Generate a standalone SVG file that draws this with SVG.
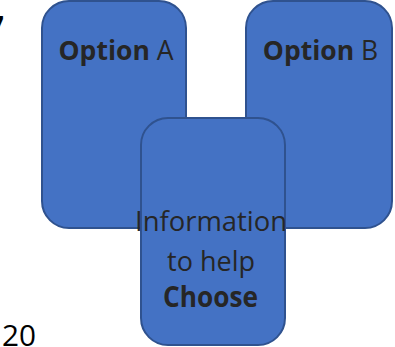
<svg xmlns="http://www.w3.org/2000/svg" width="395" height="347" viewBox="0 0 395 347">
  <style>
    .box { fill: #4472C4; stroke: #2F528F; stroke-width: 2; }
    .lbl { font-family: "Open Sans", "Liberation Sans", sans-serif; font-size: 28px; fill: #262626; }
    .opt { font-size: 26.5px; }
    .b { font-weight: 700; }
    .page { font-family: "Open Sans", "Liberation Sans", sans-serif; fill: #000000; }
  </style>
  <rect width="395" height="347" fill="#FFFFFF"/>
  <text class="page" x="4" y="38" text-anchor="end" font-size="30" font-weight="700">7</text>
  <text class="page" x="2" y="346" font-size="30" textLength="34" lengthAdjust="spacingAndGlyphs">20</text>
  <g id="optionA">
    <rect class="box" x="42" y="1" width="144" height="227" rx="27" ry="27"/>
    <text class="lbl opt" x="116" y="60" text-anchor="middle"><tspan class="b">Option</tspan> A</text>
  </g>
  <g id="optionB">
    <rect class="box" x="246" y="1" width="146" height="227" rx="27" ry="27"/>
    <text class="lbl opt" x="320.5" y="60" text-anchor="middle"><tspan class="b">Option</tspan> B</text>
  </g>
  <g id="information">
    <rect class="box" x="141" y="118" width="144" height="227" rx="27" ry="27"/>
    <text class="lbl" x="135" y="231" textLength="152" lengthAdjust="spacingAndGlyphs">Information</text>
    <text class="lbl" x="167" y="271" textLength="88" lengthAdjust="spacingAndGlyphs">to help</text>
    <text class="lbl b" x="163" y="307" textLength="95" lengthAdjust="spacingAndGlyphs">Choose</text>
  </g>
  <g id="connectors"/>
</svg>
